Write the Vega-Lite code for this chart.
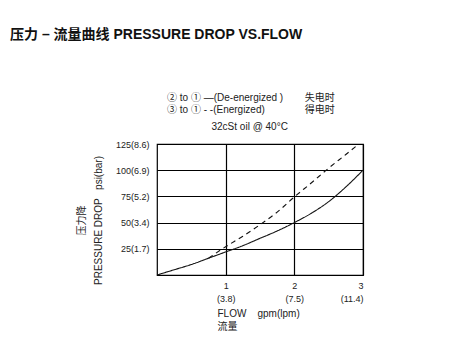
{
  "$schema": "https://vega.github.io/schema/vega-lite/v6.json",
  "width": 206,
  "height": 131,
  "autosize": {"type": "none"},
  "padding": {"left": 157, "top": 144, "right": 88, "bottom": 77},
  "background": "white",
  "config": {
    "font": "Liberation Sans, Noto Sans CJK SC",
    "view": {"stroke": "black", "strokeWidth": 1.2},
    "axis": {"labelFont": "Liberation Sans", "titleFont": "Liberation Sans, Noto Sans CJK SC"}
  },
  "title": {
    "text": "压力 – 流量曲线 PRESSURE DROP VS.FLOW",
    "anchor": "start",
    "frame": "group",
    "fontSize": 14,
    "fontWeight": "bold",
    "color": "#111",
    "font": "Liberation Sans, Noto Sans CJK SC",
    "dx": -147,
    "offset": 51
  },
  "datasets": {
    "curves": [
      {"flow": 0, "psi": 0, "state": "De-energized"},
      {"flow": 0.25, "psi": 5, "state": "De-energized"},
      {"flow": 0.5, "psi": 10, "state": "De-energized"},
      {"flow": 0.75, "psi": 16, "state": "De-energized"},
      {"flow": 1, "psi": 22, "state": "De-energized"},
      {"flow": 1.25, "psi": 28, "state": "De-energized"},
      {"flow": 1.5, "psi": 35, "state": "De-energized"},
      {"flow": 1.75, "psi": 42, "state": "De-energized"},
      {"flow": 2, "psi": 50, "state": "De-energized"},
      {"flow": 2.25, "psi": 59, "state": "De-energized"},
      {"flow": 2.5, "psi": 70, "state": "De-energized"},
      {"flow": 2.75, "psi": 84, "state": "De-energized"},
      {"flow": 3, "psi": 100, "state": "De-energized"},
      {"flow": 0.75, "psi": 16, "state": "Energized"},
      {"flow": 1, "psi": 27, "state": "Energized"},
      {"flow": 1.25, "psi": 37, "state": "Energized"},
      {"flow": 1.5, "psi": 48, "state": "Energized"},
      {"flow": 1.75, "psi": 60, "state": "Energized"},
      {"flow": 2, "psi": 74.5, "state": "Energized"},
      {"flow": 2.25, "psi": 88, "state": "Energized"},
      {"flow": 2.5, "psi": 102, "state": "Energized"},
      {"flow": 2.75, "psi": 115, "state": "Energized"},
      {"flow": 2.92, "psi": 124, "state": "Energized"}
    ],
    "notes": [
      {"note": "l1", "text": "② to ① —(De-energized )"},
      {"note": "l2", "text": "③ to ① - -(Energized)"},
      {"note": "r1", "text": "失电时"},
      {"note": "r2", "text": "得电时"},
      {"note": "oil", "text": "32cSt oil @ 40°C"}
    ]
  },
  "layer": [
    {
      "data": {"name": "curves"},
      "mark": {"type": "line", "color": "#111", "strokeWidth": 1.1, "interpolate": "monotone"},
      "encoding": {
        "x": {
          "field": "flow", "type": "quantitative",
          "scale": {"domain": [0, 3], "nice": false, "zero": true},
          "axis": {
            "values": [1, 2, 3], "tickCount": 10,
            "labelExpr": "datum.value == 1 ? ['1', '(3.8)'] : datum.value == 2 ? ['2', '(7.5)'] : ['3', '(11.4)']",
            "grid": true, "gridColor": "black", "gridOpacity": 1, "gridWidth": 1.2,
            "domain": false, "ticks": false, "labelOverlap": false,
            "labelFontSize": 9, "labelColor": "#222", "labelPadding": 6, "labelLineHeight": 13,
            "title": ["FLOW\u00a0\u00a0\u00a0\u00a0gpm(lpm)", "\u00a0流量"],
            "titleFontSize": 10, "titleFontWeight": "normal", "titleColor": "#222",
            "titleAnchor": "start", "titleAlign": "left",
            "titleX": 60, "titleY": 38, "titleLineHeight": 13, "titleBaseline": "middle"
          }
        },
        "y": {
          "field": "psi", "type": "quantitative",
          "scale": {"domain": [0, 125], "nice": false},
          "axis": {
            "values": [25, 50, 75, 100, 125], "tickCount": 10,
            "labelExpr": "datum.value == 25 ? '25(1.7)' : datum.value == 50 ? '50(3.4)' : datum.value == 75 ? '75(5.2)' : datum.value == 100 ? '100(6.9)' : '125(8.6)'",
            "grid": true, "gridColor": "black", "gridOpacity": 1, "gridWidth": 1.2,
            "domain": false, "ticks": false, "labelOverlap": false,
            "labelFontSize": 9, "labelColor": "#222", "labelPadding": 8,
            "title": ["压力降", "PRESSURE DROP\u00a0\u00a0\u00a0psi(bar)"],
            "titleFontSize": 10, "titleFontWeight": "normal", "titleColor": "#222",
            "titleAngle": -90, "titleAlign": "center", "titleBaseline": "alphabetic",
            "titleX": -73, "titleY": 76, "titleLineHeight": 17
          }
        },
        "strokeDash": {
          "field": "state", "type": "nominal",
          "scale": {"domain": ["De-energized", "Energized"], "range": [[1, 0], [5, 4]]},
          "legend": null
        }
      }
    },
    {
      "data": {"name": "notes"},
      "transform": [{"filter": "datum.note == 'l1'"}],
      "mark": {"type": "text", "align": "left", "baseline": "middle", "fontSize": 10, "color": "#222", "clip": false},
      "encoding": {"x": {"datum": 0.146}, "y": {"datum": 169}, "text": {"field": "text"}}
    },
    {
      "data": {"name": "notes"},
      "transform": [{"filter": "datum.note == 'l2'"}],
      "mark": {"type": "text", "align": "left", "baseline": "middle", "fontSize": 10, "color": "#222", "clip": false},
      "encoding": {"x": {"datum": 0.146}, "y": {"datum": 157.5}, "text": {"field": "text"}}
    },
    {
      "data": {"name": "notes"},
      "transform": [{"filter": "datum.note == 'r1'"}],
      "mark": {"type": "text", "align": "left", "baseline": "middle", "fontSize": 10, "color": "#222", "clip": false},
      "encoding": {"x": {"datum": 2.15}, "y": {"datum": 169}, "text": {"field": "text"}}
    },
    {
      "data": {"name": "notes"},
      "transform": [{"filter": "datum.note == 'r2'"}],
      "mark": {"type": "text", "align": "left", "baseline": "middle", "fontSize": 10, "color": "#222", "clip": false},
      "encoding": {"x": {"datum": 2.15}, "y": {"datum": 157.5}, "text": {"field": "text"}}
    },
    {
      "data": {"name": "notes"},
      "transform": [{"filter": "datum.note == 'oil'"}],
      "mark": {"type": "text", "align": "center", "baseline": "middle", "fontSize": 10, "color": "#222", "clip": false},
      "encoding": {"x": {"datum": 1.35}, "y": {"datum": 141.5}, "text": {"field": "text"}}
    }
  ]
}
